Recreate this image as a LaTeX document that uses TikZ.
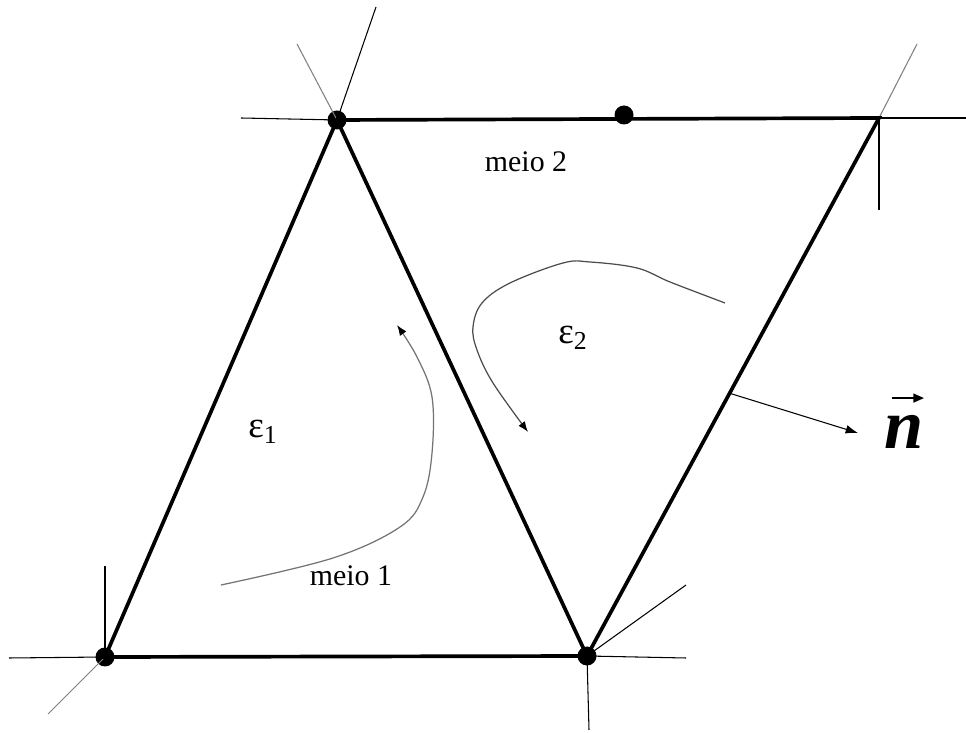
\documentclass[tikz,border=0pt]{standalone}
\usepackage{fontspec}
\setmainfont{Liberation Serif}
\usetikzlibrary{arrows.meta,positioning}

\begin{document}
\begin{tikzpicture}[comment/.style={rectangle, text centered, inner sep=0pt, font=\fontsize{17}{20}\selectfont},
	eps/.style={comment, font=\fontsize{21}{24}\selectfont},
	vertex/.style={circle, fill=black, inner sep=0pt, minimum size=0.38cm},
	edge/.style={line width=2.1pt},
	guide/.style={line width=0.6pt},
	trajectory/.style={black!55, line width=0.7pt, -{Latex[length=6pt,width=4.5pt,color=black]}}]
			\useasboundingbox (0,0) rectangle (19.32,14.64);
			
			% vertices of the mesh
			\node [vertex] (A) at (2.10,1.50) {};
			\node [vertex] (B) at (11.74,1.52) {};
			\node [vertex] (C) at (6.74,12.24) {};
			\coordinate (D) at (17.58,12.28);
			\node [vertex] (M) at (12.48,12.34) {};
			
			% thin lines leaving the vertices
			\draw [guide] (A.center) -- (0.18,1.48);
			\draw [guide] (A.center) -- (2.10,3.32);
			\draw [guide, gray] (A.center) -- (0.96,0.36);
			
			\draw [guide] (B.center) -- (13.72,1.48);
			\draw [guide] (B.center) -- (11.78,0.04);
			\draw [guide] (B.center) -- (13.72,2.94);
			
			\draw [guide] (C.center) -- (4.82,12.28);
			\draw [guide, gray] (C.center) -- (5.94,13.76);
			\draw [guide] (C.center) -- (7.52,14.50);
			
			\draw [guide] (D) -- (19.32,12.28);
			\draw [guide] (D) -- (17.58,10.44);
			\draw [guide, gray] (D) -- (18.34,13.76);
			
			% the two elements
			\draw [edge] (A.center) -- (B.center) -- (C.center) -- cycle;
			\draw [edge] (C.center) -- (D) -- (B.center);
			
			\node [eps] (e1) at (5.26,6.00) {ε\textsubscript{1}};
			\node [eps] (e2) at (11.46,7.88) {ε\textsubscript{2}};
			\node [comment] (m1) at (7.02,3.12) {meio 1};
			\node [comment] (m2) at (10.52,11.40) {meio 2};
			
			\draw [trajectory] plot [smooth, tension=0.6] coordinates {(4.42,2.94) (6.66,3.48) (8.00,4.10) (8.46,4.70) (8.64,5.58) (8.64,6.70) (8.34,7.50) (7.94,8.14)};
			\draw [trajectory, black!70] plot [smooth, tension=0.6] coordinates {(14.50,8.58) (13.40,9.00) (12.74,9.28) (11.80,9.40) (11.26,9.38) (10.20,8.98) (9.64,8.58) (9.46,8.10) (9.54,7.64) (9.86,6.98) (10.56,6.00)};
			
			% outward normal
			\path (B) -- (D) coordinate[pos=0.48] (foot);
			\coordinate (tip) at (17.16,5.98);
			\draw [line width=0.6pt, -{Latex[length=7pt,width=5pt]}] (foot) -- (tip);
			\node [inner sep=0pt, font=\fontsize{40}{44}\selectfont\bfseries\itshape] (nvec) at (18.08,6.00) {n};
			\draw [line width=1pt, -{Triangle[length=6pt,width=5pt]}] ([xshift=-0.24cm, yshift=0.34cm]nvec.north) -- ([xshift=0.40cm, yshift=0.34cm]nvec.north);
			
		\end{tikzpicture}
\end{document}
